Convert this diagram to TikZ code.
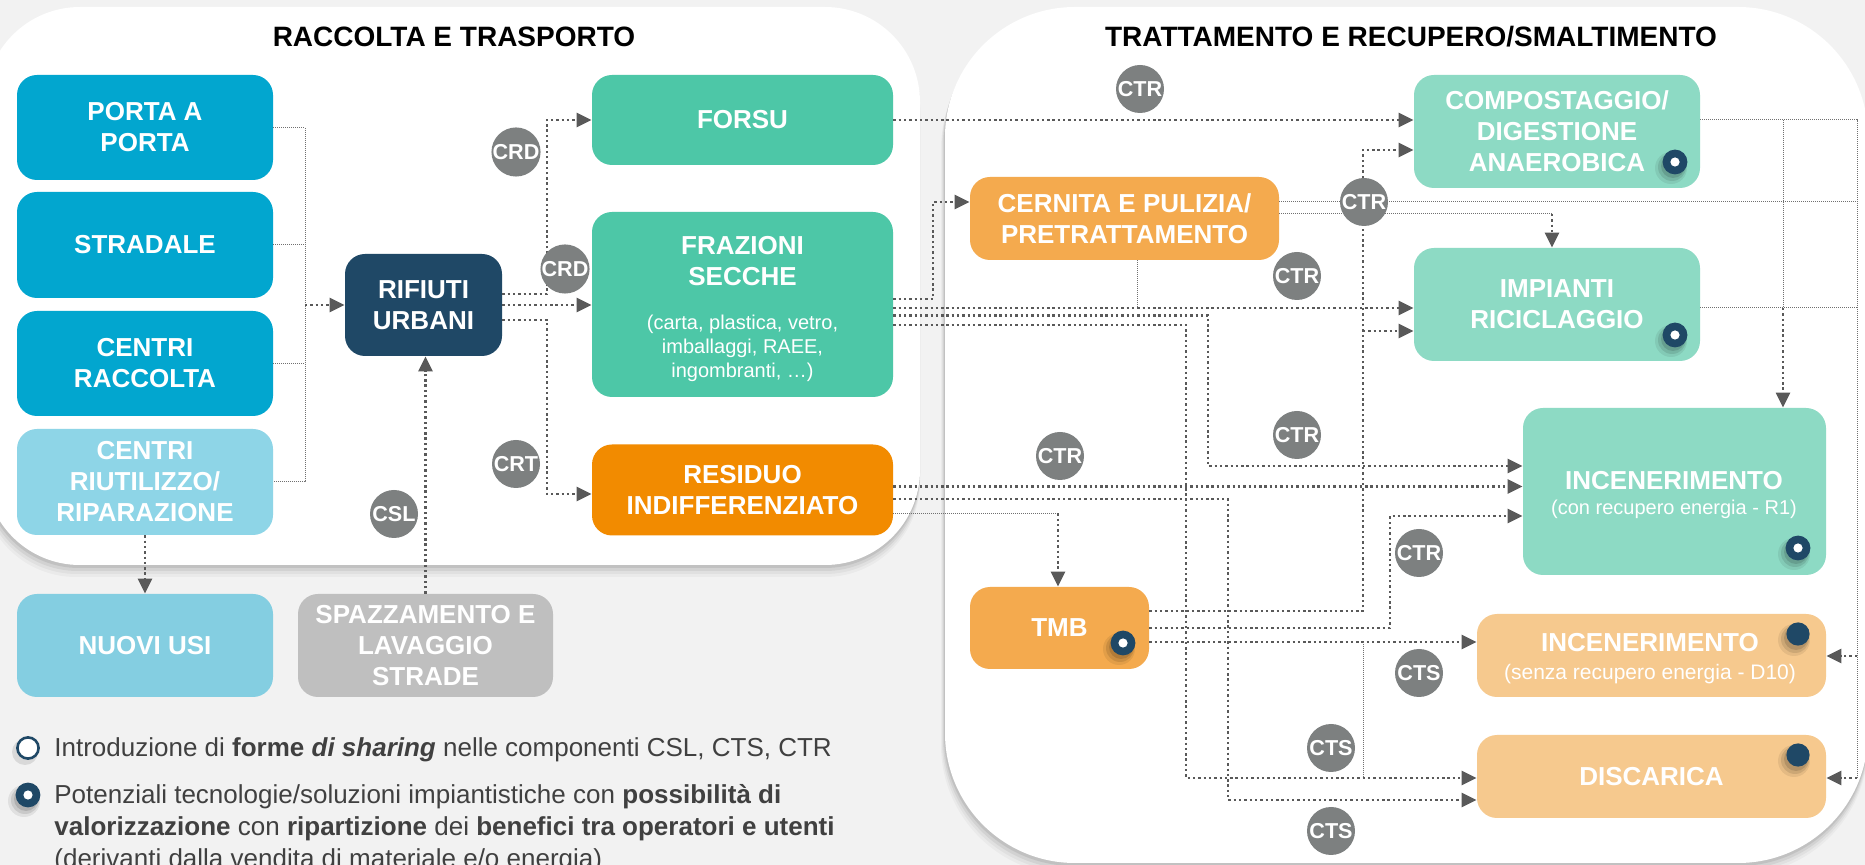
\documentclass[tikz,border=0pt]{standalone}
\usepackage{fontspec}
\setmainfont{Liberation Sans}
\usetikzlibrary{arrows.meta}
\definecolor{bgc}{HTML}{F2F2F2}
\definecolor{cblue}{HTML}{02A6CF}
\definecolor{clblue}{HTML}{8ED5E7}
\definecolor{cnuovi}{HTML}{84CEE1}
\definecolor{cgrey}{HTML}{BFBFBF}
\definecolor{cnavy}{HTML}{1F4866}
\definecolor{cgreen}{HTML}{4DC7A7}
\definecolor{corange}{HTML}{F28B00}
\definecolor{cmint}{HTML}{8DDAC4}
\definecolor{clor}{HTML}{F4AA4E}
\definecolor{cpeach}{HTML}{F6C98E}
\definecolor{ctag}{HTML}{7D8080}
\definecolor{cline}{HTML}{595959}
\definecolor{cthin}{HTML}{707070}
\definecolor{ctext}{HTML}{404040}
\begin{document}
\begin{tikzpicture}[x=0.5pt,y=-0.5pt,
  box/.style={rounded corners=10pt, inner sep=0pt, align=center, text=white, font=\fontsize{13}{15.5}\selectfont\bfseries},
  tag/.style={circle, fill=ctag, minimum size=24pt, inner sep=0pt, text=white, font=\fontsize{10.8}{12}\selectfont\bfseries},
  thk/.style={draw=cline, line width=1.2pt, dash pattern=on 1.2pt off 1.45pt},
  thn/.style={draw=cthin, line width=0.5pt, dash pattern=on 0.5pt off 0.5pt},
  arr/.style={-{Triangle[length=7.5pt,width=7pt]}},
  ttl/.style={font=\fontsize{14}{16}\selectfont\bfseries, text=black},
  subtxt/.style={text=white, font=\fontsize{10}{12}\selectfont, align=center, inner sep=0pt},
  legtxt/.style={anchor=base west, text=ctext, font=\fontsize{13}{16}\selectfont, inner sep=0pt},
]
\useasboundingbox (0,0) rectangle (1865,865);
\clip (0,0) rectangle (1865,865);
\fill[bgc] (0,0) rectangle (1865,865);
% panels with soft shadow
\foreach \d/\o in {12/0.03, 9/0.04, 6/0.06, 3/0.08} {
  \fill[black, opacity=\o, rounded corners=47.5pt] ({-15-\d/3},{7+\d}) rectangle (920,{565+\d});
  \fill[black, opacity=\o, rounded corners=65pt] ({945-\d/3},{7+\d}) rectangle (1868,{863+\d});
}
\fill[white, rounded corners=47.5pt] (-15,7) rectangle (920,565);
\fill[white, rounded corners=65pt] (945,7) rectangle (1868,863);

\node[ttl] (t1) at (454,37) {RACCOLTA E TRASPORTO};
\node[ttl] (t2) at (1411,37) {TRATTAMENTO E RECUPERO/SMALTIMENTO};

% boxes left
\node[box, fill=cblue, minimum width=128pt, minimum height=52.5pt] (porta) at (145,127.5) {PORTA A\\PORTA};
\node[box, fill=cblue, minimum width=128pt, minimum height=53pt] (stradale) at (145,245) {STRADALE};
\node[box, fill=cblue, minimum width=128pt, minimum height=52.5pt] (raccolta) at (145,363.5) {CENTRI\\RACCOLTA};
\node[box, fill=clblue, minimum width=128pt, minimum height=53pt] (riutilizzo) at (145,482) {CENTRI\\RIUTILIZZO/\\RIPARAZIONE};
\node[box, fill=cnavy, minimum width=78.5pt, minimum height=51pt] (rifiuti) at (423.5,305) {RIFIUTI\\URBANI};
\node[box, fill=cgreen, minimum width=150.5pt, minimum height=45pt] (forsu) at (742.5,120) {FORSU};
\node[box, fill=cgreen, minimum width=150.5pt, minimum height=92.5pt] (frazioni) at (742.5,304.5) {};
\node[box] (frazt) at (742.5,261) {FRAZIONI\\SECCHE};
\node[subtxt] (frazs) at (742.5,348) {(carta, plastica, vetro,\\imballaggi, RAEE,\\ingombranti, …)};
\node[box, fill=corange, minimum width=150.5pt, minimum height=45.5pt] (residuo) at (742.5,490) {RESIDUO\\INDIFFERENZIATO};
\node[box, fill=cnuovi, minimum width=128pt, minimum height=51.5pt] (nuovi) at (145,645.5) {NUOVI USI};
\node[box, fill=cgrey, minimum width=127.5pt, minimum height=51.5pt] (spazz) at (425.5,645.5) {SPAZZAMENTO E\\LAVAGGIO\\STRADE};

% boxes right
\node[box, fill=cmint, minimum width=143pt, minimum height=56.5pt] (compost) at (1557,131.5) {COMPOSTAGGIO/\\DIGESTIONE\\ANAEROBICA};
\node[box, fill=clor, minimum width=154.5pt, minimum height=41.5pt] (cernita) at (1124.5,218.5) {CERNITA E PULIZIA/\\PRETRATTAMENTO};
\node[box, fill=cmint, minimum width=143pt, minimum height=56.5pt] (impianti) at (1557,304.5) {IMPIANTI\\RICICLAGGIO};
\node[box, fill=cmint, minimum width=151.5pt, minimum height=83.5pt] (inc1) at (1674.5,491.5) {};
\node[box] (inc1t) at (1674,481) {INCENERIMENTO};
\node[subtxt] (inc1s) at (1674,509) {(con recupero energia - R1)};
\node[box, fill=clor, minimum width=89.5pt, minimum height=41pt] (tmb) at (1059.5,628) {TMB};
\node[box, fill=cpeach, minimum width=174.5pt, minimum height=41.5pt] (inc2) at (1651.5,655.5) {};
\node[box] (inc2t) at (1650,643) {INCENERIMENTO};
\node[subtxt, font=\fontsize{10.5}{12}\selectfont] (inc2s) at (1650,674) {(senza recupero energia - D10)};
\node[box, fill=cpeach, minimum width=174.5pt, minimum height=41.5pt] (disc) at (1651.5,776.5) {DISCARICA};

% connectors left
\coordinate (jl) at (305,305);
\draw[thn] (porta.east) -- (porta.east -| jl) -- (riutilizzo.east -| jl) -- (riutilizzo.east);
\draw[thn] (stradale.east) -- (stradale.east -| jl);
\draw[thn] (raccolta.east) -- (raccolta.east -| jl);
\draw[thk,arr] (jl) -- (rifiuti.west);
\coordinate (ra) at (547,294);
\coordinate (rb) at (547,320);
\coordinate (rc) at (547,494);
\draw[thk,arr] (rifiuti.east |- ra) -- (ra) -- (ra |- forsu.west) -- (forsu.west);
\draw[thk,arr] (rifiuti.east) -- (frazioni.west |- rifiuti.east);
\draw[thk,arr] (rifiuti.east |- rb) -- (rb) -- (rc) -- (rc -| residuo.west);
\draw[thk,arr] (spazz.north) -- (spazz.north |- rifiuti.south);
\draw[thk,arr] (riutilizzo.south) -- (nuovi.north);

% connectors right
\draw[thk,arr] (forsu.east) -- (forsu.east -| compost.west);
\coordinate (fa) at (933,299);
\coordinate (fb) at (933,202);
\draw[thk,arr] (frazioni.east |- fa) -- (fa) -- (fb) -- (fb -| cernita.west);
\coordinate (f2) at (1137,308);
\draw[thk,arr] (frazioni.east |- f2) -- (f2 -| impianti.west);
\coordinate (f3a) at (1208,315.5);
\coordinate (f3b) at (1208,466);
\draw[thk,arr] (frazioni.east |- f3a) -- (f3a) -- (f3b) -- (f3b -| inc1.west);
\coordinate (f4a) at (1186,325);
\coordinate (f4b) at (1186,778);
\draw[thk,arr] (frazioni.east |- f4a) -- (f4a) -- (f4b) -- (f4b -| disc.west);
\coordinate (r1) at (1000,486.5);
\draw[thk,arr] (residuo.east |- r1) -- (inc1.west |- r1);
\coordinate (r2a) at (1228,499);
\coordinate (r2b) at (1228,800);
\draw[thk,arr] (residuo.east |- r2a) -- (r2a) -- (r2b) -- (r2b -| disc.west);
\coordinate (r3) at (1058,513.5);
\draw[thn] (residuo.east |- r3) -- (r3);
\draw[thk,arr] (r3) -- (r3 |- tmb.north);
\coordinate (ce1) at (1857,202);
\draw[thn] (cernita.east |- ce1) -- (ce1);
\coordinate (ce2) at (1552,214);
\draw[thn] (cernita.east |- ce2) -- (ce2);
\draw[thk,arr] (ce2) -- (ce2 |- impianti.north);
\draw[thn] (f2 |- cernita.south) -- (f2);
\coordinate (t1a) at (1363,611);
\coordinate (t1b) at (1363,150);
\draw[thk,arr] (tmb.east |- t1a) -- (t1a) -- (t1b) -- (t1b -| compost.west);
\coordinate (t1c) at (1363,331);
\draw[thk,arr] (t1c) -- (t1c -| impianti.west);
\coordinate (t2a) at (1390,628);
\coordinate (t2b) at (1390,516);
\draw[thk,arr] (tmb.east |- t2a) -- (t2a) -- (t2b) -- (t2b -| inc1.west);
\coordinate (t3) at (1363,642);
\draw[thk,arr] (tmb.east |- t3) -- (t3 -| inc2.west);
\draw[thn] (t3) -- (t3 |- f4b);
\coordinate (e1) at (1857,120);
\coordinate (e2) at (1857,778);
\draw[thn] (compost.east |- e1) -- (e1) -- (e2);
\coordinate (e3) at (1857,308);
\draw[thn] (impianti.east |- e3) -- (e3);
\coordinate (e4) at (1857,656);
\draw[thk,arr] (e4) -- (e4 -| inc2.east);
\draw[thk,arr] (e2) -- (e2 -| disc.east);
\coordinate (v1) at (1783,120);
\coordinate (v2) at (1783,308);
\draw[thn] (v1) -- (v2);
\draw[thk,arr] (v2) -- (v2 |- inc1.north);

% tags
\node[tag] (crd1) at (516,152) {CRD};
\node[tag] (crd2) at (565,269) {CRD};
\node[tag] (crt) at (516,464) {CRT};
\node[tag] (csl) at (394,514) {CSL};
\node[tag] (ctr1) at (1140,89) {CTR};
\node[tag] (ctr2) at (1364,202) {CTR};
\node[tag] (ctr3) at (1297,276) {CTR};
\node[tag] (ctr4) at (1297,435) {CTR};
\node[tag] (ctr5) at (1060,456) {CTR};
\node[tag] (ctr6) at (1419,553) {CTR};
\node[tag] (cts1) at (1419,673) {CTS};
\node[tag] (cts2) at (1331,748) {CTS};
\node[tag] (cts3) at (1331,831) {CTS};

% markers
\foreach \x/\y in {1675/162, 1675/335, 1798/548, 1123/643, 28/795} {
  \fill[black,opacity=0.07] ({\x-4},{\y+6}) circle[radius=8pt];
  \fill[black,opacity=0.10] ({\x-3},{\y+5}) circle[radius=7pt];
  \fill[black,opacity=0.12] ({\x-2},{\y+4}) circle[radius=6pt];
  \fill[cnavy] (\x,\y) circle[radius=6.2pt];
  \fill[white] (\x,\y) circle[radius=2.3pt];
}
\foreach \x/\y in {1798/634, 1798/755} {
  \fill[black,opacity=0.07] ({\x-4},{\y+6}) circle[radius=8pt];
  \fill[black,opacity=0.10] ({\x-3},{\y+5}) circle[radius=7pt];
  \fill[black,opacity=0.12] ({\x-2},{\y+4}) circle[radius=6pt];
  \fill[cnavy] (\x,\y) circle[radius=5.8pt];
}
% legend
\fill[black,opacity=0.10] (25,752) circle[radius=6.5pt];
\draw[cnavy, line width=1.3pt, fill=white] (28,748) circle[radius=5.3pt];
\node[legtxt] (leg1) at (54,757) {Introduzione di \textbf{forme \textit{di sharing}} nelle componenti CSL, CTS, CTR};
\node[legtxt] (leg2) at (54,804) {Potenziali tecnologie/soluzioni impiantistiche con \textbf{possibilità di}};
\node[legtxt] (leg3) at (54,836) {\textbf{valorizzazione} con \textbf{ripartizione} dei \textbf{benefici tra operatori e utenti}};
\node[legtxt] (leg4) at (54,868) {(derivanti dalla vendita di materiale e/o energia)};
\end{tikzpicture}
\end{document}
